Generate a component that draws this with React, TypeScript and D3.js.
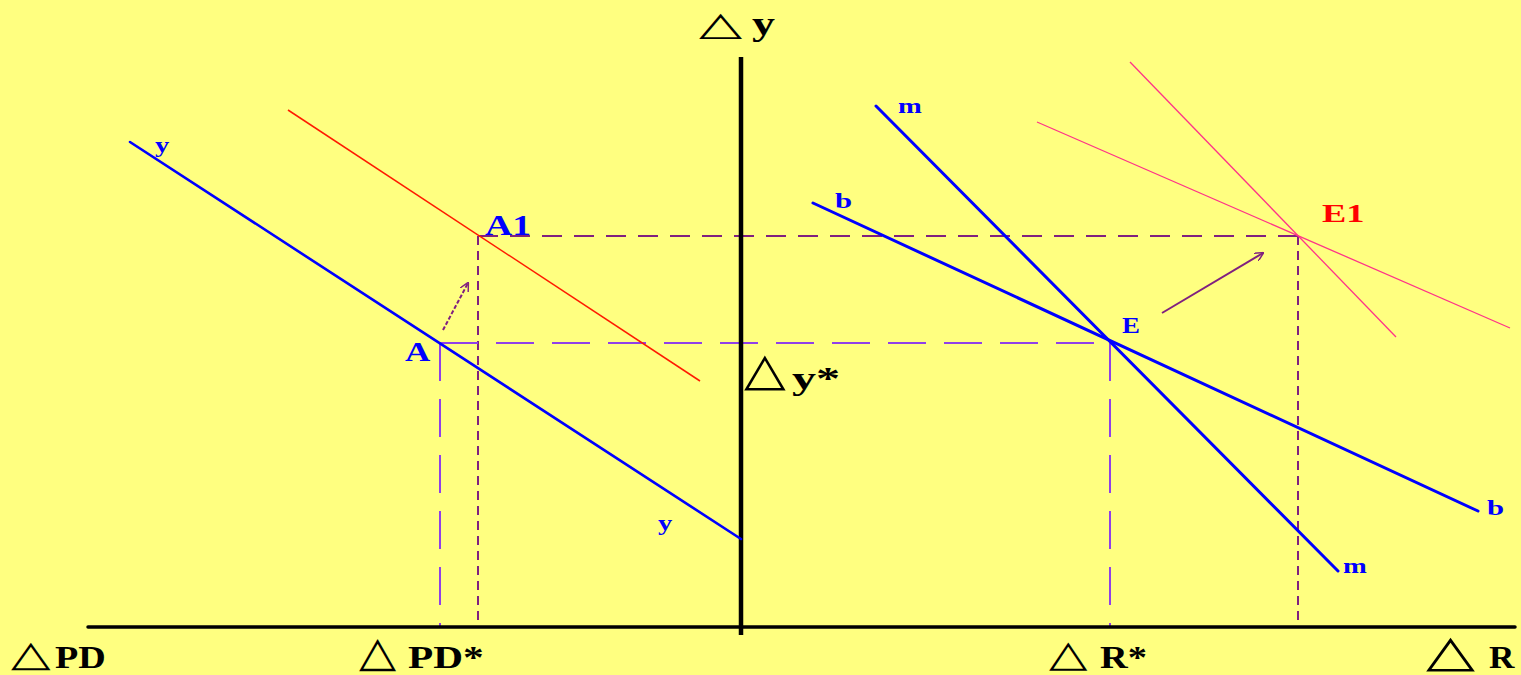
import React from "react";
import * as d3 from "d3";

const W = 1521;
const H = 675;

// Model units: origin sits where the two axes cross.
// Left half measures ΔPD (to the left), right half ΔR, vertical Δy.
const xAxisSpan: [number, number] = [-65.3, 77.4];
const yAxisSpan: [number, number] = [-0.8, 57.0];

const pdStar = -30.1;
const pdNew = -26.3;
const rStar = 36.9;
const rNew = 55.7;
const yStar = 28.4;
const yNew = 39.1;

type Pt = [number, number];

// Blue y-y schedule and its shifted (red) copy
const curveY: Pt[] = [[-61.1, 48.5], [0, 8.8]];
const curveYShift: Pt[] = [[-45.3, 51.7], [-4.1, 24.6]];
// Right-hand schedules m and b, plus their shifted versions
const curveM: Pt[] = [[13.5, 52.1], [59.7, 5.6]];
const curveB: Pt[] = [[7.2, 42.4], [73.7, 11.6]];
const curveMShift: Pt[] = [[38.9, 56.5], [65.5, 29.0]];
const curveBShift: Pt[] = [[29.6, 50.5], [76.9, 29.9]];
// Shift arrows
const arrowLeft: Pt[] = [[-29.8, 29.7], [-27.3, 34.4]];
const arrowRight: Pt[] = [[42.1, 31.4], [52.2, 37.4]];

const x = d3.scaleLinear().domain([-74.1, 78.0]).range([0, W]);
const y = d3.scaleLinear().domain([0, 62.7]).range([627, 0]);
const line = d3
  .line<Pt>()
  .x((d) => x(d[0]))
  .y((d) => y(d[1]));

const BG = "#FFFF80";
const BLUE = "#0000FF";
const PURPLE = "#80207F";
const VIOLET = "#9040E8";
const SERIF = "'Liberation Serif', 'DejaVu Serif', serif";
const TRI = "'DejaVu Sans', sans-serif";

// Horizontally widened text, anchored at its left baseline point
function SText(props: {
  x: number;
  y: number;
  size: number;
  sx?: number;
  fill?: string;
  family?: string;
  weight?: string;
  children: React.ReactNode;
}) {
  const { x: tx, y: ty, size, sx = 1.3, fill = "#000", family = SERIF, weight = "bold", children } = props;
  return (
    <text
      transform={`translate(${tx},${ty}) scale(${sx},1)`}
      fontSize={size}
      fontFamily={family}
      fontWeight={weight}
      fill={fill}
    >
      {children}
    </text>
  );
}

// Δ-style hollow triangle sign used in front of each axis name
function Delta(props: { x: number; y: number; size: number; sx: number }) {
  return (
    <SText x={props.x} y={props.y} size={props.size} sx={props.sx} family={TRI} weight="normal">
      △
    </SText>
  );
}

export default function App() {
  const dashedTop = { stroke: PURPLE, strokeWidth: 2, fill: "none", strokeDasharray: "20 12" };
  const dashedTopV = { stroke: PURPLE, strokeWidth: 2, fill: "none", strokeDasharray: "9 6" };
  const dashedLow = { stroke: VIOLET, strokeWidth: 2, fill: "none", strokeDasharray: "38 18" };
  const axisTop = y(yAxisSpan[1]);
  const base = y(0);
  const triBase = base + 39;
  const txtBase = base + 41;
  return (
    <svg
      width={W}
      height={H}
      style={{ position: "absolute", left: 0, top: 0, background: BG }}
    >
      <defs>
        <marker
          id="openHead"
          viewBox="0 0 10 10"
          refX="9"
          refY="5"
          markerWidth="9"
          markerHeight="9"
          markerUnits="userSpaceOnUse"
          orient="auto"
        >
          <path d="M0,0 L10,5 L0,10" fill="none" stroke={PURPLE} strokeWidth="1.6" />
        </marker>
      </defs>
      <rect x={0} y={0} width={W} height={H} fill={BG} />

      {/* guide lines */}
      <path d={line([[pdNew, yNew], [rNew, yNew]])!} {...dashedTop} />
      <path d={line([[pdNew, yNew], [pdNew, 0]])!} {...dashedTopV} />
      <path d={line([[rNew, yNew], [rNew, 0]])!} {...dashedTopV} />
      <path d={line([[pdStar, yStar], [rStar, yStar]])!} {...dashedLow} />
      <path d={line([[pdStar, yStar], [pdStar, 0]])!} {...dashedLow} />
      <path d={line([[rStar, yStar], [rStar, 0]])!} {...dashedLow} />

      {/* axes */}
      <path
        d={line([[xAxisSpan[0], 0], [xAxisSpan[1], 0]])!}
        stroke="#000"
        strokeWidth={3.5}
        strokeLinecap="round"
      />
      <path
        d={line([[0, yAxisSpan[0]], [0, yAxisSpan[1]]])!}
        stroke="#000"
        strokeWidth={4.5}
      />

      {/* schedules */}
      <path d={line(curveYShift)!} stroke="#FF1A00" strokeWidth={1.5} fill="none" />
      <path d={line(curveMShift)!} stroke="#FF3388" strokeWidth={1.3} fill="none" />
      <path d={line(curveBShift)!} stroke="#FF3388" strokeWidth={1.3} fill="none" />
      <path d={line(curveY)!} stroke={BLUE} strokeWidth={2.6} fill="none" strokeLinecap="round" />
      <path d={line(curveM)!} stroke={BLUE} strokeWidth={3} fill="none" strokeLinecap="round" />
      <path d={line(curveB)!} stroke={BLUE} strokeWidth={3} fill="none" strokeLinecap="round" />

      {/* shift arrows */}
      <path
        d={line(arrowLeft)!}
        stroke={PURPLE}
        strokeWidth={2}
        strokeDasharray="4 2"
        fill="none"
        markerEnd="url(#openHead)"
      />
      <path
        d={line(arrowRight)!}
        stroke={PURPLE}
        strokeWidth={2}
        fill="none"
        markerEnd="url(#openHead)"
      />

      {/* axis titles */}
      <Delta x={x(0) - 42} y={axisTop - 22} size={33} sx={1.7} />
      <SText x={x(0) + 11} y={axisTop - 22} size={34} sx={1.35}>y</SText>

      <Delta x={x(0) + 3} y={y(yStar) + 42} size={46} sx={1.18} />
      <SText x={x(0) + 51} y={y(yStar) + 46} size={32} sx={1.5}>y*</SText>

      <Delta x={11} y={triBase} size={36} sx={1.43} />
      <SText x={55} y={txtBase} size={32} sx={1.19}>PD</SText>

      <Delta x={x(pdStar) - 81} y={triBase} size={42} sx={1.15} />
      <SText x={x(pdStar) - 32} y={txtBase} size={32} sx={1.29}>PD*</SText>

      <Delta x={x(rStar) - 61} y={triBase} size={37} sx={1.35} />
      <SText x={x(rStar) - 10} y={txtBase} size={32} sx={1.2}>R*</SText>

      <Delta x={1426} y={triBase} size={44} sx={1.45} />
      <SText x={1489} y={txtBase} size={32} sx={1.1}>R</SText>

      {/* curve and point labels */}
      <SText x={x(curveY[0][0]) + 25} y={y(curveY[0][1]) + 10} size={22} fill={BLUE}>y</SText>
      <SText x={x(curveY[1][0]) - 83} y={y(curveY[1][1]) - 9} size={22} fill={BLUE}>y</SText>
      <SText x={x(curveM[0][0]) + 22} y={y(curveM[0][1]) + 7} size={22} fill={BLUE}>m</SText>
      <SText x={x(curveM[1][0]) + 5} y={y(curveM[1][1]) + 2} size={22} fill={BLUE}>m</SText>
      <SText x={x(curveB[0][0]) + 22} y={y(curveB[0][1]) + 5} size={22} sx={1.4} fill={BLUE}>b</SText>
      <SText x={x(curveB[1][0]) + 9} y={y(curveB[1][1]) + 4} size={22} sx={1.4} fill={BLUE}>b</SText>
      <SText x={x(pdStar) - 35} y={y(yStar) + 18} size={28} sx={1.25} fill={BLUE}>A</SText>
      <SText x={x(pdNew) + 7} y={y(yNew) - 1} size={29} sx={1.3} fill={BLUE}>A1</SText>
      <SText x={x(rStar) + 12} y={y(yStar) - 10} size={24} sx={1.12} fill={BLUE}>E</SText>
      <SText x={x(rNew) + 24} y={y(yNew) - 14} size={26} sx={1.4} fill="#FF0000">E1</SText>
    </svg>
  );
}
